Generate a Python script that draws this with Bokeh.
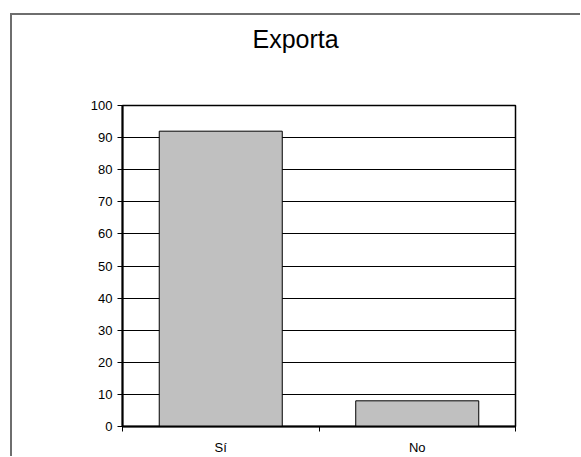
from bokeh.plotting import figure
from bokeh.models import FixedTicker, Range1d, ColumnDataSource, Title
from bokeh.embed import file_html
from bokeh.resources import INLINE

categories = ["Sí", "No"]
values = [92, 8]
y_ticks = [0, 10, 20, 30, 40, 50, 60, 70, 80, 90, 100]
title_text = "Exporta"

positions = [i + 0.5 for i in range(len(categories))]
source = ColumnDataSource(dict(x=positions, top=values, cat=categories))

FONT = "Liberation Sans"

p = figure(width=570, height=443, output_backend="svg", toolbar_location=None,
           x_range=Range1d(0, len(categories)), y_range=Range1d(0, 100),
           min_border_left=110, min_border_right=67, min_border_top=90, min_border_bottom=32,
           title=title_text)
p.styles = {"margin-left": "10px", "margin-top": "13px",
            "border-left": "2px solid #6e6e6e", "border-top": "2px solid #6e6e6e"}
p.background_fill_color = "white"
p.border_fill_color = "white"
p.outline_line_color = "black"
p.outline_line_width = 1.5

p.title.text_font = FONT
p.title.text_font_size = "25px"
p.title.text_font_style = "normal"
p.title.text_color = "black"
p.title.align = "left"
p.title.offset = 130

# blank spacer title between the chart title and the plot area
p.add_layout(Title(text=" ", text_font_size="32px"), "above")

p.vbar(x="x", top="top", width=0.626, bottom=0, source=source,
       fill_color="#C0C0C0", line_color="black", line_width=1)

p.xgrid.grid_line_color = None
p.ygrid.grid_line_color = "black"
p.ygrid.grid_line_width = 1
p.ygrid.ticker = FixedTicker(ticks=y_ticks)

p.yaxis.ticker = FixedTicker(ticks=y_ticks)
p.yaxis.axis_line_color = "black"
p.yaxis.axis_line_width = 2
p.yaxis.major_tick_out = 5
p.yaxis.major_tick_in = 0
p.yaxis.minor_tick_line_color = None
p.yaxis.major_label_standoff = 5
p.yaxis.major_label_text_font = FONT
p.yaxis.major_label_text_font_size = "13px"
p.yaxis.major_label_text_color = "black"

p.xaxis.ticker = FixedTicker(ticks=positions, minor_ticks=list(range(len(categories) + 1)))
p.xaxis.major_label_overrides = {pos: c for pos, c in zip(positions, categories)}
p.xaxis.major_tick_line_color = None
p.xaxis.minor_tick_line_color = "black"
p.xaxis.minor_tick_out = 5
p.xaxis.minor_tick_in = 0
p.xaxis.axis_line_color = "black"
p.xaxis.axis_line_width = 2
p.xaxis.major_label_standoff = 7
p.xaxis.major_label_text_font = FONT
p.xaxis.major_label_text_font_size = "13px"
p.xaxis.major_label_text_color = "black"

open("out.html", "w").write(file_html(p, INLINE))
